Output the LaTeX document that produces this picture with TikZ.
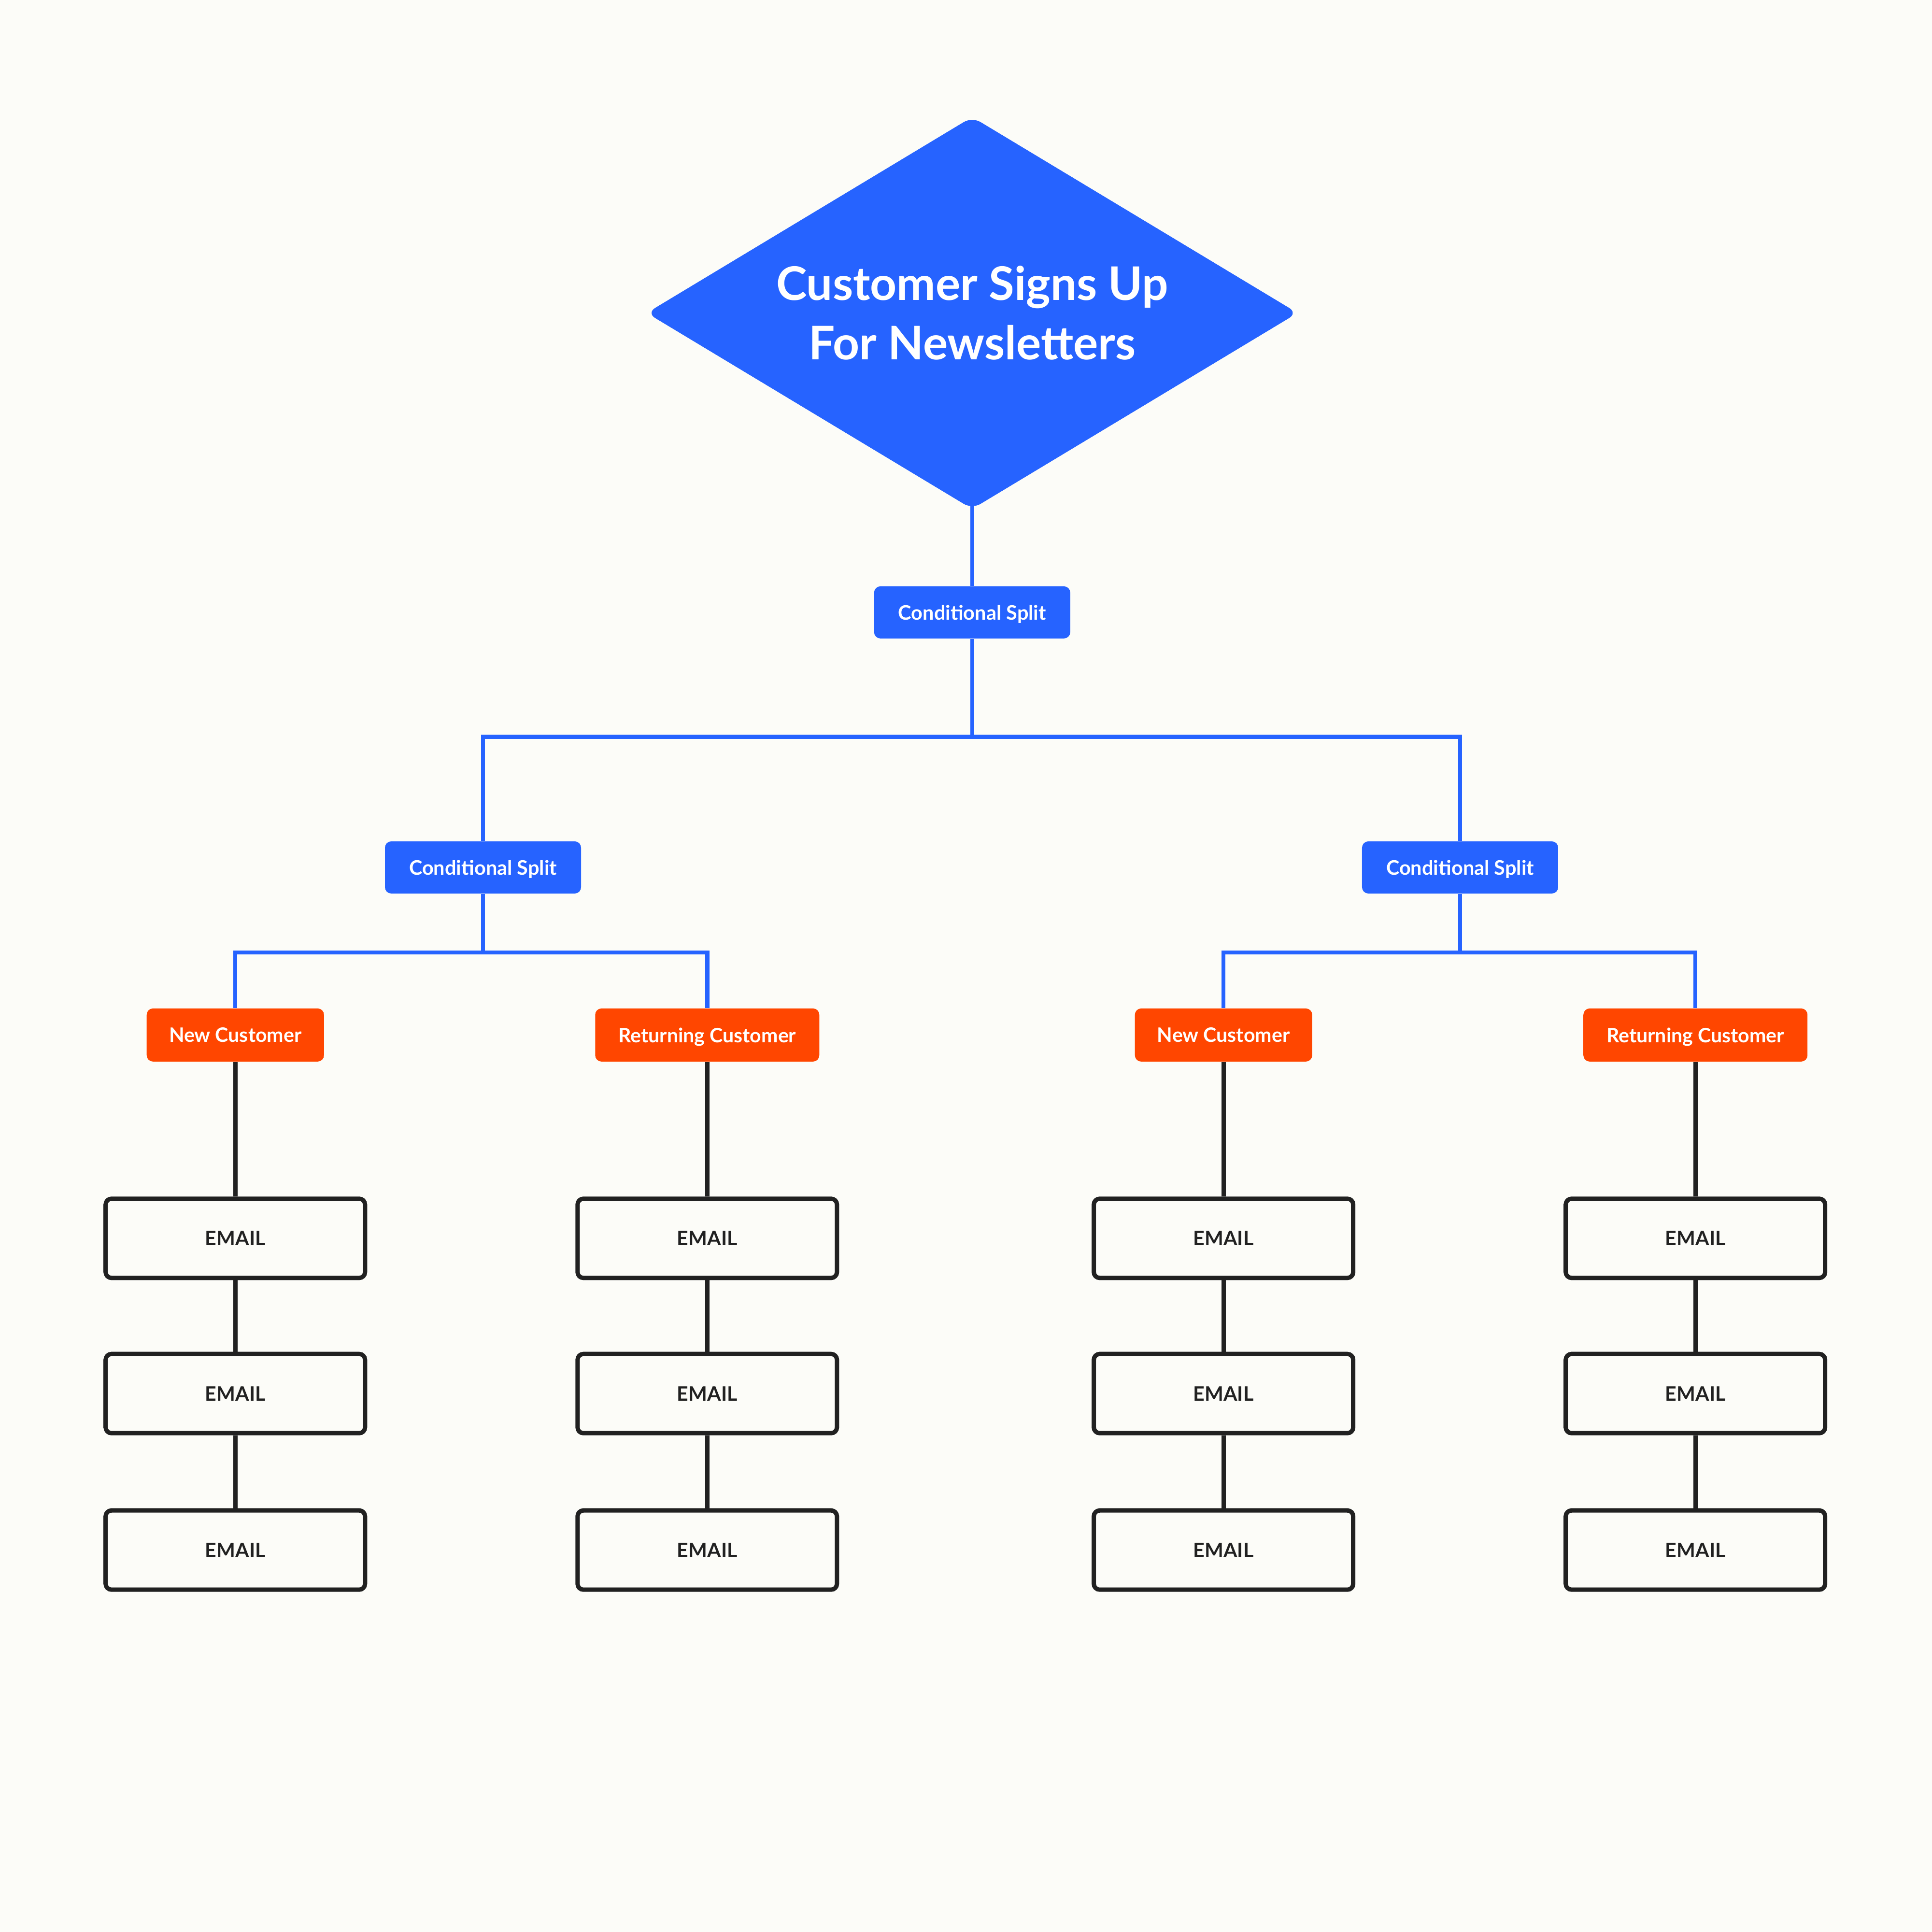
\documentclass[tikz,border=0pt]{standalone}
\usepackage{fontspec}
\setmainfont{Lato}
\usetikzlibrary{shapes.geometric}
\definecolor{splitblue}{RGB}{38,99,255}
\definecolor{custorange}{RGB}{255,70,0}
\definecolor{inkdark}{RGB}{33,33,33}
\definecolor{paper}{RGB}{252,252,248}

\begin{document}
\begin{tikzpicture}[x=0.2551mm, y=-0.2551mm, font=\bfseries,
	start/.style={diamond, aspect=1.66, fill=splitblue, text=white, inner sep=0pt,
		minimum width=134.8mm, minimum height=81.2mm, rounded corners=2mm, align=center,
		font=\fontsize{27.3}{35}\selectfont\bfseries},
	split/.style={fill=splitblue, text=white, rounded corners=1.3mm, minimum width=40.6mm,
		minimum height=10.8mm, text depth=0pt, font=\fontsize{11.8}{13}\selectfont\bfseries},
	cust/.style={fill=custorange, text=white, rounded corners=1.3mm, text depth=0pt,
		minimum height=11mm, font=\fontsize{11.7}{13}\selectfont\bfseries},
	email/.style={draw=inkdark, fill=paper, text=inkdark, line width=0.9mm, rounded corners=1.2mm,
		minimum width=53.7mm, minimum height=16.4mm, font=\fontsize{11.7}{13}\selectfont\bfseries},
	blueline/.style={draw=splitblue, line width=0.85mm},
	darkline/.style={draw=inkdark, line width=0.9mm}]

	\fill[paper] (0,0) rectangle (1568,1568);

	\node[start] (signup) at (789,254) {Customer Signs Up\\For Newsletters};

	\node[split] (split) at (789,497) {Conditional Split};
	\node[split] (splitL) at (392,704) {Conditional Split};
	\node[split] (splitR) at (1185,704) {Conditional Split};

	\node[cust, minimum width=36.7mm] (newL) at (191,840) {New Customer};
	\node[cust, minimum width=46.4mm] (retL) at (574,840) {Returning Customer};
	\node[cust, minimum width=36.7mm] (newR) at (993,840) {New Customer};
	\node[cust, minimum width=46.4mm] (retR) at (1376,840) {Returning Customer};

	\coordinate (bus) at (789,598);
	\coordinate (busL) at (392,773);
	\coordinate (busR) at (1185,773);

	\draw[blueline, shorten <=-3mm] (signup.south) -- (split.north);
	\draw[blueline] (split.south) -- (bus) -| (splitL.north);
	\draw[blueline] (bus) -| (splitR.north);
	\draw[blueline] (splitL.south) -- (busL) -| (newL.north);
	\draw[blueline] (busL) -| (retL.north);
	\draw[blueline] (splitR.south) -- (busR) -| (newR.north);
	\draw[blueline] (busR) -| (retR.north);

	% email chains
	\node[email] (mailA1) at (191,1005) {EMAIL};
	\node[email] (mailA2) at (191,1131) {EMAIL};
	\node[email] (mailA3) at (191,1258) {EMAIL};
	\node[email] (mailB1) at (574,1005) {EMAIL};
	\node[email] (mailB2) at (574,1131) {EMAIL};
	\node[email] (mailB3) at (574,1258) {EMAIL};
	\node[email] (mailC1) at (993,1005) {EMAIL};
	\node[email] (mailC2) at (993,1131) {EMAIL};
	\node[email] (mailC3) at (993,1258) {EMAIL};
	\node[email] (mailD1) at (1376,1005) {EMAIL};
	\node[email] (mailD2) at (1376,1131) {EMAIL};
	\node[email] (mailD3) at (1376,1258) {EMAIL};

	\draw[darkline] (newL) -- (mailA1) -- (mailA2) -- (mailA3);
	\draw[darkline] (retL) -- (mailB1) -- (mailB2) -- (mailB3);
	\draw[darkline] (newR) -- (mailC1) -- (mailC2) -- (mailC3);
	\draw[darkline] (retR) -- (mailD1) -- (mailD2) -- (mailD3);

\end{tikzpicture}
\end{document}
